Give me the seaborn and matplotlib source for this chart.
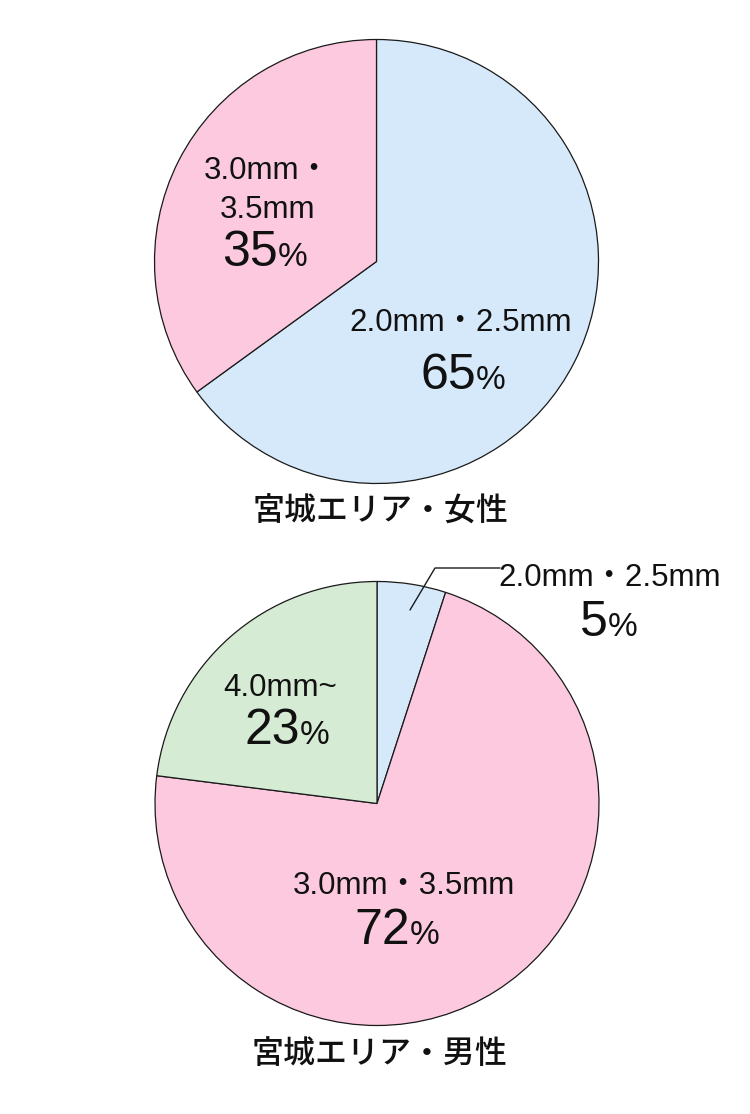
import matplotlib
matplotlib.use("Agg")
import matplotlib.pyplot as plt
import seaborn as sns

# data
female_sizes = ["2.0mm・2.5mm", "3.0mm・3.5mm"]
female_share = [65, 35]
male_sizes = ["2.0mm・2.5mm", "3.0mm・3.5mm", "4.0mm~"]
male_share = [5, 72, 23]
titles = ["宮城エリア・女性", "宮城エリア・男性"]

size_colors = {
    "2.0mm・2.5mm": "#d6e9fb",
    "3.0mm・3.5mm": "#fcc9de",
    "4.0mm~": "#d5ebd3",
}

sns.set_theme(style="white")
plt.rcParams["font.family"] = ["Liberation Sans", "Noto Sans CJK JP", "DejaVu Sans"]

W, H = 750, 1114
fig = plt.figure(figsize=(W / 100, H / 100), dpi=100)
fig.patch.set_facecolor("white")


def px(x):
    return x / W


def py(y):
    return 1 - y / H


def pie_axes(cx, cy, r):
    ax = fig.add_axes([px(cx - r), py(cy + r), 2 * r / W, 2 * r / H])
    ax.set_xlim(-1, 1)
    ax.set_ylim(-1, 1)
    ax.axis("off")
    return ax


def draw_pie(ax, sizes, share):
    ax.pie(share, colors=[size_colors[s] for s in sizes], startangle=90,
           counterclock=False, radius=1,
           wedgeprops=dict(edgecolor="#1a1a1a", linewidth=0.9))
    ax.set_xlim(-1, 1)
    ax.set_ylim(-1, 1)


def small(x, y, s):
    fig.text(px(x), py(y), s, ha="center", va="baseline", fontsize=22.5, color="#111111")


def pct(x, y, value):
    r = fig.canvas.get_renderer()
    t1 = fig.text(px(x), py(y), str(value), ha="right", va="baseline", fontsize=36, color="#111111")
    t2 = fig.text(px(x), py(y), "%", ha="left", va="baseline", fontsize=24, color="#111111")
    w1 = t1.get_window_extent(r).width
    w2 = t2.get_window_extent(r).width
    shift = (w1 - w2) / 2
    t1.set_x(px(x + shift))
    t2.set_x(px(x + shift))


# top pie (female)
ax1 = pie_axes(376.5, 261.5, 222)
draw_pie(ax1, female_sizes, female_share)
small(267, 179, "3.0mm・")
small(268, 218, "3.5mm")
pct(265, 266, female_share[1])
small(461, 331, female_sizes[0])
pct(463, 389, female_share[0])
fig.text(px(380), py(521), titles[0], ha="center", va="baseline",
         fontsize=23, family=["Noto Sans CJK JP"], fontweight="medium", color="#111111")

# bottom pie (male)
cx2, cy2, r2 = 377, 803.5, 222
ax2 = pie_axes(cx2, cy2, r2)
draw_pie(ax2, male_sizes, male_share)
lx = [(410 - cx2) / r2, (435 - cx2) / r2, (500 - cx2) / r2]
ly = [(cy2 - 610) / r2, (cy2 - 568) / r2, (cy2 - 568) / r2]
ax2.plot(lx, ly, color="#1a1a1a", linewidth=1.0, clip_on=False)
small(610, 586, male_sizes[0])
pct(609, 636, male_share[0])
small(280, 696, male_sizes[2])
pct(287, 744, male_share[2])
small(404, 894, male_sizes[1])
pct(397, 944, male_share[1])
fig.text(px(379), py(1063), titles[1], ha="center", va="baseline",
         fontsize=23, family=["Noto Sans CJK JP"], fontweight="medium", color="#111111")

fig.savefig("out.png", dpi=100, facecolor="white")
